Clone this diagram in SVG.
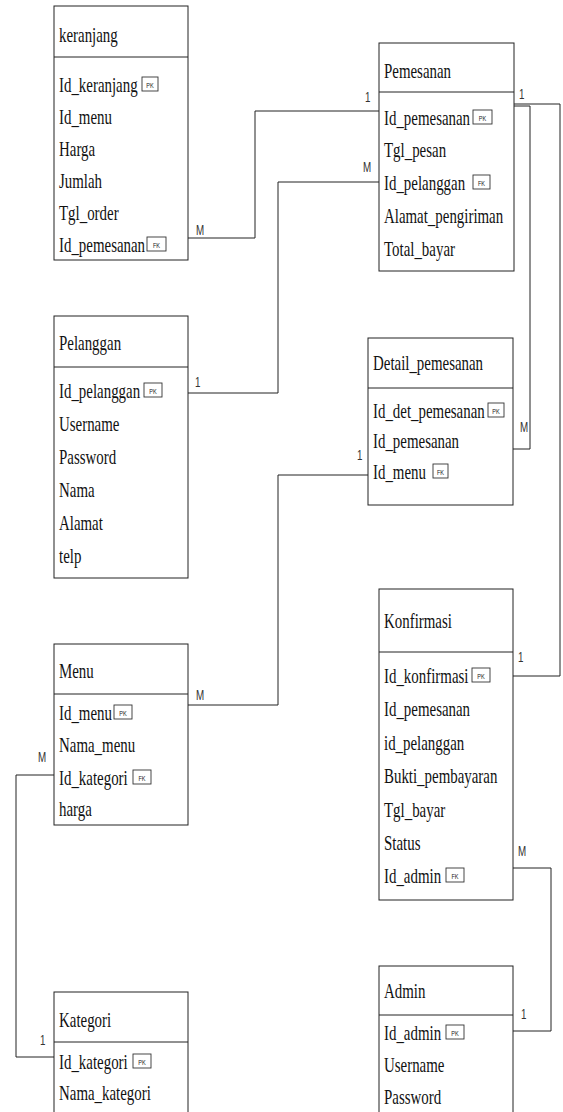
<svg xmlns="http://www.w3.org/2000/svg" width="563" height="1112" viewBox="0 0 563 1112">
<style>
.box{fill:#fff;stroke:#222;stroke-width:1}
.sep{stroke:#222;stroke-width:1}
.t{font-family:"Liberation Serif","Times New Roman",serif;font-size:21px;fill:#111}
.bd{fill:#fff;stroke:#333;stroke-width:0.9}
.bt{font-family:"Liberation Sans",Arial,sans-serif;font-size:8px;fill:#222;text-anchor:middle}
.c{fill:none;stroke:#222;stroke-width:1}
.l{font-family:"Liberation Sans",Arial,sans-serif;font-size:14px;fill:#333}
</style>
<rect width="563" height="1112" fill="#fff"/>

<g id="connectors">
<polyline class="c" points="188,238 255,238 255,111 379,111"/>
<polyline class="c" points="188,393 278,393 278,182 379,182"/>
<polyline class="c" points="514,106 530,106 530,449 513,449"/>
<polyline class="c" points="514,104 560,104 560,676 513,676"/>
<polyline class="c" points="188,705 278,705 278,475 368,475"/>
<polyline class="c" points="54,775 16,775 16,1057 54,1057"/>
<polyline class="c" points="513,868 551,868 551,1031 513,1031"/>
<text class="l" transform="translate(196,235) scale(0.7,1)">M</text>
<text class="l" transform="translate(365,102) scale(0.7,1)">1</text>
<text class="l" transform="translate(195,387) scale(0.7,1)">1</text>
<text class="l" transform="translate(363,172) scale(0.7,1)">M</text>
<text class="l" transform="translate(519,99) scale(0.7,1)">1</text>
<text class="l" transform="translate(520,432) scale(0.7,1)">M</text>
<text class="l" transform="translate(518,662) scale(0.7,1)">1</text>
<text class="l" transform="translate(196,700) scale(0.7,1)">M</text>
<text class="l" transform="translate(357,460) scale(0.7,1)">1</text>
<text class="l" transform="translate(38,762) scale(0.7,1)">M</text>
<text class="l" transform="translate(40,1045) scale(0.7,1)">1</text>
<text class="l" transform="translate(518,856) scale(0.7,1)">M</text>
<text class="l" transform="translate(521,1019) scale(0.7,1)">1</text>
</g>

<g id="keranjang">
<rect class="box" x="54" y="6" width="134" height="254"/>
<line class="sep" x1="54" y1="57" x2="188" y2="57"/>
<text class="t" transform="translate(59,42) scale(0.71,1)">keranjang</text>
<text class="t" transform="translate(59,92) scale(0.71,1)">Id_keranjang</text>
<text class="t" transform="translate(59,124) scale(0.71,1)">Id_menu</text>
<text class="t" transform="translate(59,156) scale(0.71,1)">Harga</text>
<text class="t" transform="translate(59,188) scale(0.71,1)">Jumlah</text>
<text class="t" transform="translate(59,220) scale(0.71,1)">Tgl_order</text>
<text class="t" transform="translate(59,252) scale(0.71,1)">Id_pemesanan</text>
<rect class="bd" x="142" y="77" width="16" height="14"/><text class="bt" transform="translate(150,87.5) scale(0.7,1)">PK</text>
<rect class="bd" x="147" y="237" width="19" height="14"/><text class="bt" transform="translate(156.5,247.5) scale(0.7,1)">FK</text>
</g>

<g id="pemesanan">
<rect class="box" x="379" y="43" width="135" height="228"/>
<line class="sep" x1="379" y1="92" x2="514" y2="92"/>
<text class="t" transform="translate(384,78) scale(0.71,1)">Pemesanan</text>
<text class="t" transform="translate(384,125) scale(0.71,1)">Id_pemesanan</text>
<text class="t" transform="translate(384,157) scale(0.71,1)">Tgl_pesan</text>
<text class="t" transform="translate(384,190) scale(0.71,1)">Id_pelanggan</text>
<text class="t" transform="translate(384,223) scale(0.71,1)">Alamat_pengiriman</text>
<text class="t" transform="translate(384,256) scale(0.71,1)">Total_bayar</text>
<rect class="bd" x="473" y="110" width="19" height="14"/><text class="bt" transform="translate(482.5,120.5) scale(0.7,1)">PK</text>
<rect class="bd" x="473" y="175" width="17" height="14"/><text class="bt" transform="translate(481.5,185.5) scale(0.7,1)">FK</text>
</g>

<g id="pelanggan">
<rect class="box" x="54" y="316" width="134" height="262"/>
<line class="sep" x1="54" y1="367" x2="188" y2="367"/>
<text class="t" transform="translate(59,350) scale(0.71,1)">Pelanggan</text>
<text class="t" transform="translate(59,398) scale(0.71,1)">Id_pelanggan</text>
<text class="t" transform="translate(59,431) scale(0.71,1)">Username</text>
<text class="t" transform="translate(59,464) scale(0.71,1)">Password</text>
<text class="t" transform="translate(59,497) scale(0.71,1)">Nama</text>
<text class="t" transform="translate(59,530) scale(0.71,1)">Alamat</text>
<text class="t" transform="translate(59,563) scale(0.71,1)">telp</text>
<rect class="bd" x="144" y="383" width="18" height="14"/><text class="bt" transform="translate(153,393.5) scale(0.7,1)">PK</text>
</g>

<g id="detail_pemesanan">
<rect class="box" x="368" y="338" width="145" height="167"/>
<line class="sep" x1="368" y1="388" x2="513" y2="388"/>
<text class="t" transform="translate(373,370) scale(0.71,1)">Detail_pemesanan</text>
<text class="t" transform="translate(373,418) scale(0.71,1)">Id_det_pemesanan</text>
<text class="t" transform="translate(373,448) scale(0.71,1)">Id_pemesanan</text>
<text class="t" transform="translate(373,479) scale(0.71,1)">Id_menu</text>
<rect class="bd" x="488" y="403" width="16" height="14"/><text class="bt" transform="translate(496,413.5) scale(0.7,1)">PK</text>
<rect class="bd" x="433" y="464" width="15" height="14"/><text class="bt" transform="translate(440.5,474.5) scale(0.7,1)">FK</text>
</g>

<g id="menu">
<rect class="box" x="54" y="644" width="134" height="181"/>
<line class="sep" x1="54" y1="694" x2="188" y2="694"/>
<text class="t" transform="translate(59,678) scale(0.71,1)">Menu</text>
<text class="t" transform="translate(59,720) scale(0.71,1)">Id_menu</text>
<text class="t" transform="translate(59,752) scale(0.71,1)">Nama_menu</text>
<text class="t" transform="translate(59,785) scale(0.71,1)">Id_kategori</text>
<text class="t" transform="translate(59,816) scale(0.71,1)">harga</text>
<rect class="bd" x="114" y="705" width="18" height="14"/><text class="bt" transform="translate(123,715.5) scale(0.7,1)">PK</text>
<rect class="bd" x="133" y="770" width="18" height="14"/><text class="bt" transform="translate(142,780.5) scale(0.7,1)">FK</text>
</g>

<g id="konfirmasi">
<rect class="box" x="379" y="589" width="134" height="311"/>
<line class="sep" x1="379" y1="652" x2="513" y2="652"/>
<text class="t" transform="translate(384,628) scale(0.71,1)">Konfirmasi</text>
<text class="t" transform="translate(384,683) scale(0.71,1)">Id_konfirmasi</text>
<text class="t" transform="translate(384,716) scale(0.71,1)">Id_pemesanan</text>
<text class="t" transform="translate(384,750) scale(0.71,1)">id_pelanggan</text>
<text class="t" transform="translate(384,783) scale(0.71,1)">Bukti_pembayaran</text>
<text class="t" transform="translate(384,817) scale(0.71,1)">Tgl_bayar</text>
<text class="t" transform="translate(384,850) scale(0.71,1)">Status</text>
<text class="t" transform="translate(384,883) scale(0.71,1)">Id_admin</text>
<rect class="bd" x="472" y="668" width="18" height="14"/><text class="bt" transform="translate(481,678.5) scale(0.7,1)">PK</text>
<rect class="bd" x="446" y="868" width="18" height="14"/><text class="bt" transform="translate(455,878.5) scale(0.7,1)">FK</text>
</g>

<g id="kategori">
<rect class="box" x="54" y="992" width="134" height="140"/>
<line class="sep" x1="54" y1="1042" x2="188" y2="1042"/>
<text class="t" transform="translate(59,1027) scale(0.71,1)">Kategori</text>
<text class="t" transform="translate(59,1069) scale(0.71,1)">Id_kategori</text>
<text class="t" transform="translate(59,1100) scale(0.71,1)">Nama_kategori</text>
<rect class="bd" x="133" y="1054" width="18" height="14"/><text class="bt" transform="translate(142,1064.5) scale(0.7,1)">PK</text>
</g>

<g id="admin">
<rect class="box" x="379" y="966" width="134" height="166"/>
<line class="sep" x1="379" y1="1015" x2="513" y2="1015"/>
<text class="t" transform="translate(384,998) scale(0.71,1)">Admin</text>
<text class="t" transform="translate(384,1040) scale(0.71,1)">Id_admin</text>
<text class="t" transform="translate(384,1072) scale(0.71,1)">Username</text>
<text class="t" transform="translate(384,1104) scale(0.71,1)">Password</text>
<rect class="bd" x="446" y="1025" width="18" height="14"/><text class="bt" transform="translate(455,1035.5) scale(0.7,1)">PK</text>
</g>
</svg>
